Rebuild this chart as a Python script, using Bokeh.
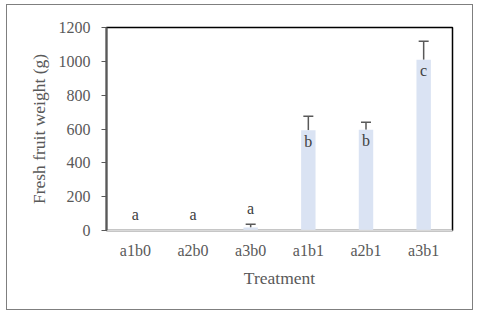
from bokeh.plotting import figure
from bokeh.models import ColumnDataSource, Whisker, TeeHead, FixedTicker, FactorRange, Range1d
from bokeh.core.properties import value
from bokeh.embed import file_html
from bokeh.resources import INLINE

treatments = ["a1b0", "a2b0", "a3b0", "a1b1", "a2b1", "a3b1"]
weights = [0, 0, 18, 592, 596, 1010]
errors = [0, 0, 19, 83, 44, 108]
letters = ["a", "a", "a", "b", "b", "c"]
y_ticks = [0, 200, 400, 600, 800, 1000, 1200]

GRAY = "#595959"
FONT = "Liberation Serif"

p = figure(x_range=FactorRange(*treatments, range_padding=0), y_range=Range1d(0, 1200),
           width=467, height=305, frame_width=346, frame_height=203,
           min_border_left=99, min_border_right=20, min_border_top=22, min_border_bottom=79,
           output_backend="svg", toolbar_location=None, margin=(4, 0, 0, 6))
p.styles = {"border": "1px solid #7f7f7f", "box-sizing": "border-box"}

src = ColumnDataSource(dict(x=treatments, top=weights,
                            upper=[w + e for w, e in zip(weights, errors)], letter=letters))
p.vbar(x="x", top="top", width=0.25, source=src, fill_color="#dae3f3", line_color=None)

ex = [t for t, e in zip(treatments, errors) if e > 0]
eb = [w for w, e in zip(weights, errors) if e > 0]
eu = [w + e for w, e in zip(weights, errors) if e > 0]
esrc = ColumnDataSource(dict(x=ex, base=eb, upper=eu))
p.add_layout(Whisker(source=esrc, base="x", upper="upper", lower="base", dimension="height",
                     line_color=GRAY, line_width=1.5,
                     upper_head=TeeHead(size=10, line_color=GRAY, line_width=1.5),
                     lower_head=None))

small = [i for i, w in enumerate(weights) if w < 100]
big = [i for i, w in enumerate(weights) if w >= 100]
ssrc = ColumnDataSource(dict(x=[treatments[i] for i in small],
                             y=[weights[i] + errors[i] for i in small],
                             t=[letters[i] for i in small]))
bsrc = ColumnDataSource(dict(x=[treatments[i] for i in big],
                             y=[weights[i] for i in big],
                             t=[letters[i] for i in big]))
p.text(x="x", y="y", text="t", source=ssrc, y_offset=-16, text_align="center",
       text_baseline="middle", text_font=value(FONT), text_font_size="16px", text_color="#404040")
p.text(x="x", y="y", text="t", source=bsrc, y_offset=11, text_align="center",
       text_baseline="middle", text_font=value(FONT), text_font_size="16px", text_color="#404040")

p.xgrid.visible = False
p.ygrid.visible = False
p.outline_line_color = "black"
p.outline_line_width = 1.5

p.yaxis.ticker = FixedTicker(ticks=y_ticks)
p.yaxis.axis_label = "Fresh fruit weight (g)"
p.xaxis.axis_label = "Treatment"
for ax in (p.xaxis, p.yaxis):
    ax.axis_label_text_font = FONT
    ax.axis_label_text_font_size = "17.5px"
    ax.axis_label_text_font_style = "normal"
    ax.axis_label_text_color = GRAY
    ax.major_label_text_font = FONT
    ax.major_label_text_font_size = "16px"
    ax.major_label_text_color = GRAY
    ax.minor_tick_line_color = None

p.yaxis.axis_line_color = GRAY
p.yaxis.axis_line_width = 2
p.yaxis.major_tick_line_color = GRAY
p.yaxis.major_tick_out = 5
p.yaxis.major_tick_in = 0
p.yaxis.major_label_standoff = 11
p.yaxis.axis_label_standoff = 7

p.xaxis.axis_line_color = "#d9d9d9"
p.xaxis.axis_line_width = 1.5
p.xaxis.major_tick_line_color = None
p.xaxis.major_label_standoff = 5
p.xaxis.axis_label_standoff = 6

open("out.html", "w").write(file_html(p, INLINE))
